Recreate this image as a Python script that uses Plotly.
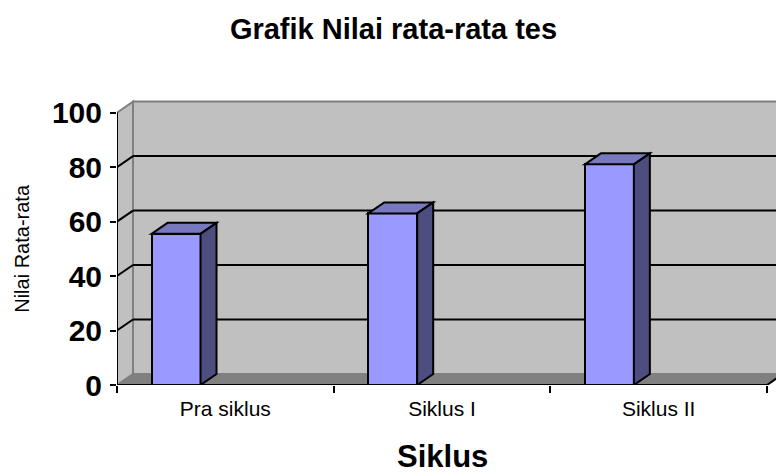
import plotly.graph_objects as go

# ---- data ----
categories = ["Pra siklus", "Siklus I", "Siklus II"]
values = [55.5, 63, 81]
y_ticks = [0, 20, 40, 60, 80, 100]
title_text = "Grafik Nilai rata-rata tes"
x_title = "Siklus"
y_title = "Nilai Rata-rata"

# ---- style / geometry ----
W, H = 776, 473
L_M, R_M, T_M, B_M = 117, 0, 99, 88
X_RANGE = [-0.5, 2.5415]
Y_RANGE = [0, 105]
DX = 0.0738   # depth offset in category units
DY = 4.04     # depth offset in value units
BAR_W = 0.226
BAR_OFF = -0.3405
FRONT = "#9999FF"
TOP = "#7878BE"
SIDE = "#4D4D80"
WALL = "#C0C0C0"
FLOOR = "#808080"
EDGE = "#808080"
FONT = "Arial, Liberation Sans, sans-serif"

n = len(categories)
x_last = n - 0.5

shapes = []
# back wall
shapes.append(dict(type="rect", xref="x", yref="y", x0=-0.5 + DX, x1=X_RANGE[1] + 0.05,
                   y0=DY, y1=100 + DY, fillcolor=WALL, line=dict(color=EDGE, width=2), layer="below"))
# left side wall
shapes.append(dict(type="path", xref="x", yref="y",
                   path=f"M {-0.5},0 L {-0.5+DX},{DY} L {-0.5+DX},{100+DY} L {-0.5},100 Z",
                   fillcolor=WALL, line=dict(color=EDGE, width=2), layer="below"))
# floor
shapes.append(dict(type="path", xref="x", yref="y",
                   path=f"M {-0.5},0 L {x_last},0 L {x_last+DX},{DY} L {-0.5+DX},{DY} Z",
                   fillcolor=FLOOR, line=dict(color=EDGE, width=1), layer="below"))
# gridlines (back wall + side wall diagonals)
for v in y_ticks[1:-1]:
    shapes.append(dict(type="line", xref="x", yref="y", x0=-0.5 + DX, x1=X_RANGE[1] + 0.05,
                       y0=v + DY, y1=v + DY, line=dict(color="black", width=2), layer="below"))
    shapes.append(dict(type="line", xref="x", yref="y", x0=-0.5, x1=-0.5 + DX,
                       y0=v, y1=v + DY, line=dict(color="black", width=2), layer="below"))
# right floor edge
shapes.append(dict(type="line", xref="x", yref="y", x0=x_last, x1=x_last + DX,
                   y0=0, y1=DY, line=dict(color="black", width=2), layer="below"))

# bar top and side faces
for i, v in enumerate(values):
    xl = i + BAR_OFF
    xr = xl + BAR_W
    shapes.append(dict(type="path", xref="x", yref="y",
                       path=f"M {xl},{v} L {xl+DX},{v+DY} L {xr+DX},{v+DY} L {xr},{v} Z",
                       fillcolor=TOP, line=dict(color="black", width=2), layer="above"))
    shapes.append(dict(type="path", xref="x", yref="y",
                       path=f"M {xr},0 L {xr+DX},{DY} L {xr+DX},{v+DY} L {xr},{v} Z",
                       fillcolor=SIDE, line=dict(color="black", width=2), layer="above"))

# axis lines
shapes.append(dict(type="line", xref="x", yref="y", x0=-0.5, x1=-0.5, y0=0, y1=100,
                   line=dict(color="black", width=2), layer="above"))
shapes.append(dict(type="line", xref="x", yref="y", x0=-0.5, x1=x_last, y0=0, y1=0,
                   line=dict(color="black", width=2), layer="above"))

fig = go.Figure()
fig.add_trace(go.Bar(
    x=categories, y=values, width=BAR_W, offset=BAR_OFF,
    marker=dict(color=FRONT, line=dict(color="black", width=2)),
    hoverinfo="skip", showlegend=False,
))

fig.update_layout(
    width=W, height=H,
    margin=dict(l=L_M, r=R_M, t=T_M, b=B_M),
    paper_bgcolor="white", plot_bgcolor="white",
    font=dict(family=FONT, color="black"),
    title=dict(text=f"<b>{title_text}</b>", font=dict(size=29, family=FONT, color="black"),
               x=393.5 / W, xanchor="center", xref="container",
               y=1 - 29 / H, yanchor="middle", yref="container"),
    xaxis=dict(type="category", range=X_RANGE, showgrid=False, zeroline=False, showline=False,
               ticks="outside", tickson="boundaries", ticklen=7, tickwidth=2, tickcolor="black",
               tickfont=dict(size=21, family=FONT, color="black"), ticklabelstandoff=9,
               fixedrange=True),
    yaxis=dict(range=Y_RANGE, tickvals=y_ticks, showgrid=False, zeroline=False, showline=False,
               ticks="outside", ticklen=6, tickwidth=2, tickcolor="black",
               tickfont=dict(size=30, family=FONT, color="black", weight="bold"),
               ticklabelstandoff=2, fixedrange=True),
    shapes=shapes,
    annotations=[
        dict(text=f"<b>{x_title}</b>", xref="x", yref="paper", x=1, y=0, yshift=-71,
             xanchor="center", yanchor="middle", showarrow=False,
             font=dict(size=31, family=FONT, color="black")),
        dict(text=y_title, xref="paper", yref="y", x=0, y=50, xshift=-95,
             xanchor="center", yanchor="middle", textangle=-90, showarrow=False,
             font=dict(size=20, family=FONT, color="black")),
    ],
    bargap=0,
)

fig.write_html("out.html", config={"displayModeBar": False},
               post_script="document.body.style.margin='0';")
